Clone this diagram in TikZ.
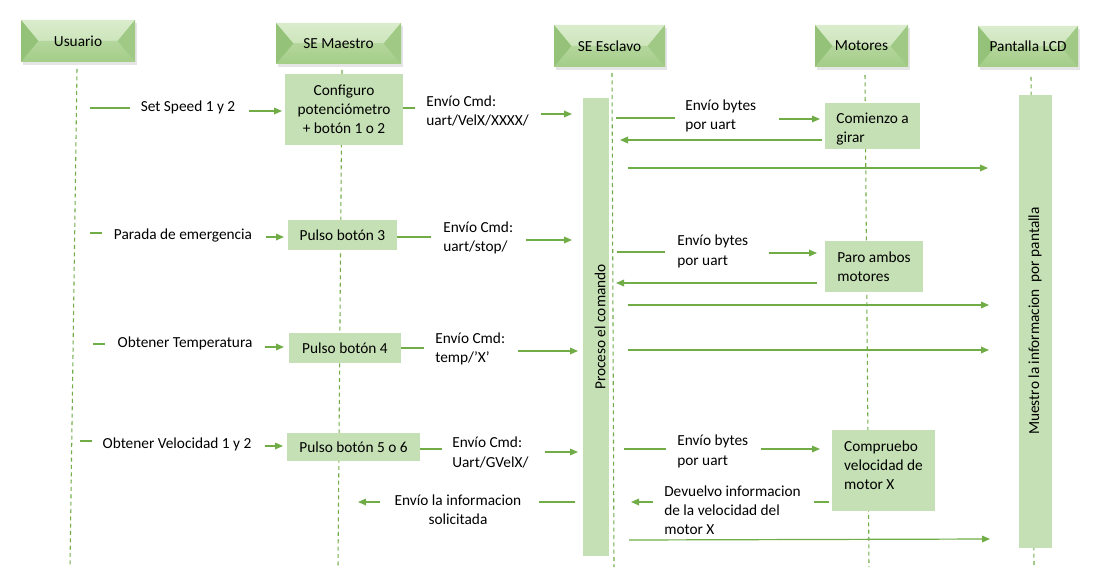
\documentclass[tikz,border=0pt]{standalone}
\usepackage{fontspec}
\setmainfont{Carlito}
\usetikzlibrary{arrows.meta,calc,shadows}
\definecolor{gline}{HTML}{70AD47}
\definecolor{gbox}{HTML}{C5E0B4}
\definecolor{hTopA}{HTML}{DAECCD}
\definecolor{hTopB}{HTML}{BFDDA9}
\definecolor{hBotA}{HTML}{B4D69C}
\definecolor{hBotB}{HTML}{A3CD87}
\definecolor{hLeft}{HTML}{95C279}
\definecolor{hRight}{HTML}{9FC985}
\newcommand\lblfont{\fontsize{11.5}{14.4}\selectfont}
\newcommand\seg[4]{\coordinate (#1a) at (#2); \coordinate (#1b) at (#3); \draw[#4] (#1a) -- (#1b);}
\begin{document}
\begin{tikzpicture}[x=0.75pt,y=-0.75pt,
  lifeline/.style={gline, line width=0.8pt, dash pattern=on 3pt off 2.5pt},
  ln/.style={gline, line width=0.9pt},
  arr/.style={ln, -{Triangle[length=6pt,width=5pt]}},
  box/.style={fill=gbox, inner sep=0pt, font=\lblfont, align=center},
  lbl/.style={font=\lblfont, align=left, inner sep=0pt},
  hdr/.style={inner sep=0pt, font=\lblfont, fill=hBotA,
    drop shadow={opacity=0.2, shadow xshift=1.6pt, shadow yshift=-2pt},
    path picture={
      \shade[top color=hTopA, bottom color=hTopB]
        let \p1=(path picture bounding box.north west), \p2=(path picture bounding box.south east) in
        (\x1,\y1) -- (\x2,\y1) -- (\x2-13pt,{(\y1+\y2)/2}) -- (\x1+13pt,{(\y1+\y2)/2}) -- cycle;
      \shade[top color=hBotA, bottom color=hBotB]
        let \p1=(path picture bounding box.north west), \p2=(path picture bounding box.south east) in
        (\x1,\y2) -- (\x2,\y2) -- (\x2-13pt,{(\y1+\y2)/2}) -- (\x1+13pt,{(\y1+\y2)/2}) -- cycle;
      \fill[hLeft]
        let \p1=(path picture bounding box.north west), \p2=(path picture bounding box.south east) in
        (\x1,\y1) -- (\x1+13pt,{(\y1+\y2)/2}) -- (\x1,\y2) -- cycle;
      \fill[hRight]
        let \p1=(path picture bounding box.north west), \p2=(path picture bounding box.south east) in
        (\x2,\y1) -- (\x2-13pt,{(\y1+\y2)/2}) -- (\x2,\y2) -- cycle;
    }}
]
\useasboundingbox (0,0) rectangle (1094,567);
\fill[white] (0,0) rectangle (1094,567);

% lifelines
\draw[lifeline] (77,69) -- (70,567);
\draw[lifeline] (342,70) -- (338,567);
\draw[lifeline] (612,73) -- (614,567);
\draw[lifeline] (865,75) -- (869,567);
\draw[lifeline] (1031,77) -- (1034,567);

% headers
\node[hdr, minimum width=85.5pt, minimum height=31.5pt] (usr) at (78,41) {Usuario};
\node[hdr, minimum width=93.75pt, minimum height=30.75pt] (mae) at (338.5,43.5) {SE Maestro};
\node[hdr, minimum width=83.25pt, minimum height=31.5pt] (esc) at (609.5,46) {SE Esclavo};
\node[hdr, minimum width=69.75pt, minimum height=31.5pt] (mot) at (861.5,46) {Motores};
\node[hdr, minimum width=75pt, minimum height=30.75pt] (lcd) at (1028,46.5) {Pantalla LCD};

% activation bars
\node[box, minimum width=19.5pt, minimum height=343.5pt] (proc) at (596,327) {};
\node[lbl, rotate=90] (proct) at (600,327) {Proceso el comando};
\node[box, minimum width=24.75pt, minimum height=339.75pt] (lcdb) at (1035.5,321.5) {};
\node[lbl, rotate=90] (lcdt) at (1035,321) {Muestro la informacion\ \ por pantalla};

% boxes
\node[box, minimum width=88.5pt, minimum height=53.25pt] (cfg) at (344,109.5) {Configuro\\potenciómetro\\+ botón 1 o 2};
\node[box, minimum width=71.25pt, minimum height=34.5pt] (gir) at (872.5,126) {};
\node[lbl] (girt) at (872.5,129) {Comienzo a\\girar};
\node[box, minimum width=81.75pt, minimum height=22.5pt] (p3) at (342.5,235) {Pulso botón 3};
\node[box, minimum width=73.5pt, minimum height=38.25pt] (paro) at (874,266.5) {};
\node[lbl] (parot) at (874,267) {Paro ambos\\motores};
\node[box, minimum width=84pt, minimum height=22.5pt] (p4) at (345,348) {Pulso botón 4};
\node[box, minimum width=99.75pt, minimum height=21pt] (p56) at (353.5,447) {Pulso botón 5 o 6};
\node[box, minimum width=77.25pt, minimum height=60.75pt] (comp) at (883.5,470.5) {};
\node[lbl] (compt) at (883.5,465) {Compruebo\\velocidad de\\motor X};

% row 1
\seg{s1a}{90,108}{130,108}{ln}
\seg{s1b}{249,111}{282,111}{arr}
\node[lbl] (l1) at (188,107) {Set Speed 1 y 2};
\coordinate (g2) at (415,108);
\draw[ln] (cfg.east |- g2) -- (g2);
\seg{s2}{541,114}{572,114}{arr}
\node[lbl, anchor=west] (l2) at (426,111) {Envío Cmd:\\uart/VelX/XXXX/};
\seg{s3a}{616,118}{675,118}{ln}
\seg{s3b}{779,119}{820,119}{arr}
\node[lbl, anchor=west] (l3) at (685,116) {Envío bytes\\por uart};
\seg{s4}{822,140}{620,140}{arr}
\seg{s5}{628,168}{988,168}{arr}

% row 2
\seg{s6a}{90,233}{102,233}{ln}
\seg{s6b}{266,237}{284,237}{arr}
\node[lbl] (l6) at (183,235) {Parada de emergencia};
\coordinate (g7) at (431,237);
\draw[ln] (p3.east |- g7) -- (g7);
\seg{s7}{526,240}{572,240}{arr}
\node[lbl, anchor=west] (l7) at (443,238) {Envío Cmd:\\uart/stop/};
\seg{s8a}{617,252}{665,252}{ln}
\seg{s8b}{769,253}{817,253}{arr}
\node[lbl, anchor=west] (l8) at (677,251.5) {Envío bytes\\por uart};
\seg{s9}{817,283}{616,283}{arr}
\seg{s10}{628,305}{989,305}{arr}

% row 3
\seg{s11a}{93,344}{105,344}{ln}
\seg{s11b}{265,347}{284,347}{arr}
\node[lbl] (l11) at (185,343) {Obtener Temperatura};
\coordinate (g12) at (424,348);
\draw[ln] (p4.east |- g12) -- (g12);
\seg{s12}{518,351}{578,351}{arr}
\node[lbl, anchor=west] (l12) at (435,349) {Envío Cmd:\\temp/’X’};
\seg{s13}{628,350}{989,350}{arr}

% row 4
\seg{s14a}{80,441}{92,441}{ln}
\seg{s14b}{265,446}{283,446}{arr}
\node[lbl] (l14) at (177,444) {Obtener Velocidad 1 y 2};
\coordinate (g15) at (442,449);
\draw[ln] (p56.east |- g15) -- (g15);
\seg{s15}{545,452}{578,452}{arr}
\node[lbl, anchor=west] (l15) at (452,452.5) {Envío Cmd:\\Uart/GVelX/};
\seg{s16a}{624,449}{666,449}{ln}
\seg{s16b}{761,449}{820,449}{arr}
\node[lbl, anchor=west] (l16) at (677,451.5) {Envío bytes\\por uart};
\seg{s17a}{829,502}{814,502}{ln}
\seg{s17b}{653,502}{631,502}{arr}
\node[lbl, anchor=west] (l17) at (664,510) {Devuelvo informacion\\de la velocidad del\\motor X};
\seg{s18a}{575,502}{539,502}{ln}
\seg{s18b}{380,502}{358,502}{arr}
\node[lbl, align=center] (l18) at (458,510) {Envío la informacion\\solicitada};
\seg{s19}{629,540}{990,539}{arr}
\end{tikzpicture}
\end{document}
